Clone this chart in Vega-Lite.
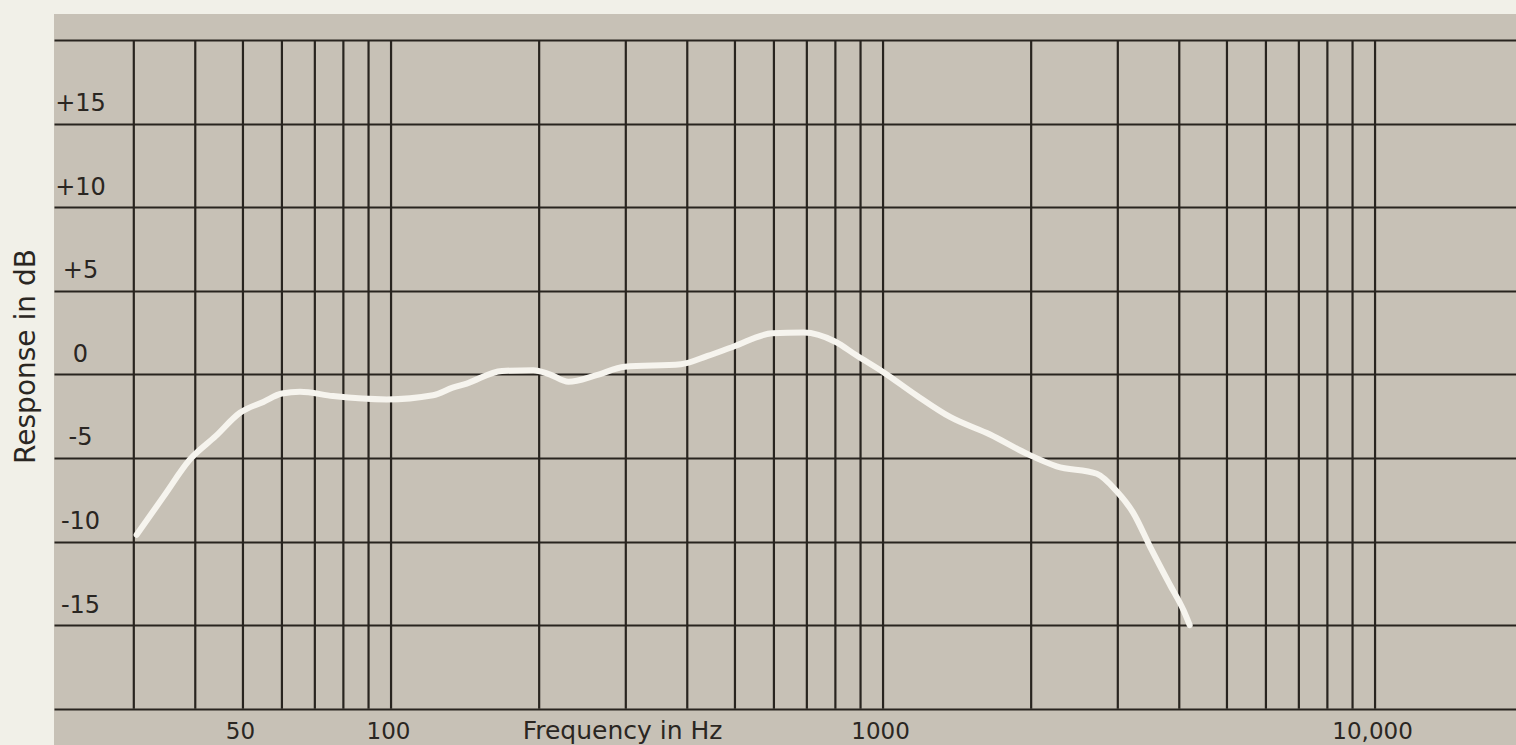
{
  "$schema": "https://vega.github.io/schema/vega-lite/v6.json",
  "width": 1462,
  "height": 731,
  "autosize": {"type": "none"},
  "padding": {"left": 54, "top": 14, "right": 0, "bottom": 0},
  "background": "#f1f0e8",
  "config": {
    "view": {"fill": "#c7c1b6", "stroke": null},
    "font": "DejaVu Sans"
  },
  "datasets": {
    "grid": [
      {"freq": 30}, {"freq": 40}, {"freq": 50}, {"freq": 60}, {"freq": 70}, {"freq": 80}, {"freq": 90},
      {"freq": 100}, {"freq": 200}, {"freq": 300}, {"freq": 400}, {"freq": 500}, {"freq": 600}, {"freq": 700}, {"freq": 800}, {"freq": 900},
      {"freq": 1000}, {"freq": 2000}, {"freq": 3000}, {"freq": 4000}, {"freq": 5000}, {"freq": 6000}, {"freq": 7000}, {"freq": 8000}, {"freq": 9000},
      {"freq": 10000}
    ],
    "response": [
      {"freq": 30.4, "db": -9.6},
      {"freq": 34.5, "db": -7.3},
      {"freq": 39, "db": -5.1},
      {"freq": 44, "db": -3.7},
      {"freq": 49.3, "db": -2.3},
      {"freq": 55, "db": -1.65},
      {"freq": 60, "db": -1.15},
      {"freq": 65.3, "db": -1.04},
      {"freq": 76.2, "db": -1.3},
      {"freq": 98, "db": -1.5},
      {"freq": 121.7, "db": -1.25},
      {"freq": 133.4, "db": -0.8},
      {"freq": 142.5, "db": -0.55},
      {"freq": 168, "db": 0.2},
      {"freq": 194.5, "db": 0.25},
      {"freq": 210, "db": 0.0},
      {"freq": 229.4, "db": -0.45},
      {"freq": 261.6, "db": -0.05},
      {"freq": 298.5, "db": 0.45},
      {"freq": 388, "db": 0.6},
      {"freq": 440, "db": 1.1},
      {"freq": 496, "db": 1.65},
      {"freq": 595, "db": 2.45},
      {"freq": 690, "db": 2.5},
      {"freq": 800, "db": 1.95},
      {"freq": 881, "db": 1.15},
      {"freq": 1005, "db": 0.1},
      {"freq": 1168, "db": -1.25},
      {"freq": 1368, "db": -2.55},
      {"freq": 1650, "db": -3.6},
      {"freq": 1960, "db": -4.75},
      {"freq": 2254, "db": -5.5},
      {"freq": 2720, "db": -5.95},
      {"freq": 2985, "db": -7.0},
      {"freq": 3227, "db": -8.3},
      {"freq": 3488, "db": -10.3},
      {"freq": 3831, "db": -12.6},
      {"freq": 4078, "db": -14.1},
      {"freq": 4200, "db": -15.0}
    ]
  },
  "layer": [
    {
      "data": {"name": "grid"},
      "mark": {"type": "rule", "color": "#28241f", "strokeWidth": 2.2},
      "encoding": {
        "x": {"field": "freq", "type": "quantitative",
              "scale": {"type": "log", "domain": [20.65, 19340], "nice": false}},
        "y": {"datum": -20, "type": "quantitative",
              "scale": {"domain": [-22.17, 21.55], "nice": false, "zero": false}},
        "y2": {"datum": 20}
      }
    },
    {
      "data": {"name": "response"},
      "mark": {"type": "line", "color": "#f6f4ee", "strokeWidth": 6, "strokeCap": "round", "strokeJoin": "round", "interpolate": "monotone"},
      "encoding": {
        "x": {
          "field": "freq", "type": "quantitative",
          "scale": {"type": "log", "domain": [20.65, 19340], "nice": false},
          "axis": {
            "orient": "bottom",
            "values": [50, 100, 1000, 10000],
            "labelExpr": "datum.value == 10000 ? '10,000' : '' + datum.value",
            "grid": false, "ticks": false, "tickSize": 0, "domain": false,
            "labelPadding": -7, "labelBaseline": "alphabetic", "labelOffset": -3,
            "labelFlush": false, "labelOverlap": false,
            "labelFont": "DejaVu Sans", "labelFontSize": 23, "labelColor": "#2a2622",
            "title": "Frequency in Hz",
            "titleX": 568, "titleY": -7, "titleAlign": "center", "titleBaseline": "alphabetic",
            "titleFont": "DejaVu Sans", "titleFontSize": 25, "titleFontWeight": "normal", "titleColor": "#2a2622"
          }
        },
        "y": {
          "field": "db", "type": "quantitative",
          "scale": {"domain": [-22.17, 21.55], "nice": false, "zero": false},
          "axis": {
            "orient": "left",
            "values": [-20, -15, -10, -5, 0, 5, 10, 15, 20],
            "labelExpr": "abs(datum.value) == 20 ? '' : (datum.value > 0 ? '+' + datum.value : '' + datum.value)",
            "grid": true, "gridColor": "#28241f", "gridWidth": 2.2, "gridOpacity": 1,
            "ticks": false, "tickSize": 0, "domain": false,
            "labelAlign": "center", "labelPadding": -26, "labelBaseline": "middle", "labelOffset": -20,
            "labelFlush": false, "labelOverlap": false,
            "labelFont": "DejaVu Sans", "labelFontSize": 24, "labelColor": "#2a2622",
            "title": "Response in dB",
            "titleX": -28, "titleY": 342, "titleAngle": -90, "titleAlign": "center", "titleBaseline": "middle",
            "titleFont": "DejaVu Sans", "titleFontSize": 28, "titleFontWeight": "normal", "titleColor": "#2a2622"
          }
        }
      }
    }
  ]
}
